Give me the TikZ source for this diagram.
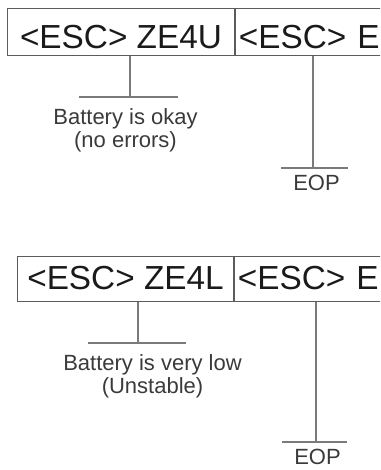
\documentclass[tikz,border=0pt]{standalone}
\usepackage{fontspec}
\setmainfont{Liberation Sans}
\definecolor{cmdink}{HTML}{1A1A1A}
\definecolor{noteink}{HTML}{3A3A3A}
\definecolor{leadgray}{HTML}{7A7A7A}
\definecolor{framegray}{HTML}{5C5C5C}

\begin{document}
\begin{tikzpicture}[
  x=0.75pt,
  y=-0.75pt,
  cmdbox/.style={draw=framegray, line width=0.75pt, inner xsep=0pt, inner ysep=0pt,
    font=\fontsize{25}{29}\selectfont, text=cmdink},
  tailbox/.style={cmdbox, text width=165pt, align=left, inner xsep=2.5pt},
  note/.style={inner sep=0pt, align=center, font=\fontsize{16.5}{17.6}\selectfont, text=noteink},
  lead/.style={leadgray, line width=0.8pt}
]
  % ---- page, same size as the scan ------------------------------------
  \useasboundingbox (0,0) rectangle (380,470);
  \clip (0,0) rectangle (380,470);

  % ---- first sequence: battery okay -------------------------------------
  \node[cmdbox, anchor=north west, minimum width=170.25pt,
        text height=30pt, text depth=5.25pt] (zeu) at (7,8) {<ESC> ZE4U};
  \node[tailbox, anchor=north west,
        text height=30pt, text depth=5.25pt] (esce) at (zeu.north east) {<ESC> E};

  \coordinate (okfoot) at (130,97);
  \draw[lead] (zeu.south -| okfoot) -- (okfoot);
  \draw[lead] (okfoot) ++(-51,0) -- ++(99,0);
  \node[note, anchor=north] (okay) at (125.5,108) {Battery is okay\\(no errors)};

  \coordinate (eopfoot) at (313,168);
  \draw[lead] (esce.south -| eopfoot) -- (eopfoot);
  \draw[lead] (eopfoot) ++(-32,0) -- ++(67,0);
  \node[note, anchor=north] (eop) at (316.5,175) {EOP};

  % ---- second sequence: battery very low --------------------------------
  \node[cmdbox, anchor=north west, minimum width=162pt,
        text height=24.75pt, text depth=9pt] (zel) at (17,256) {<ESC> ZE4L};
  \node[tailbox, anchor=north west,
        text height=24.75pt, text depth=9pt] (escl) at (zel.north east) {<ESC> E};

  \coordinate (lowfoot) at (138,343);
  \draw[lead] (zel.south -| lowfoot) -- (lowfoot);
  \draw[lead] (lowfoot) ++(-50,0) -- ++(98,0);
  \node[note, anchor=north] (low) at (152.5,354) {Battery is very low\\(Unstable)};

  % the scan cuts this one close to its lower edge
  \coordinate (eopfootl) at (316,442);
  \draw[lead] (escl.south -| eopfootl) -- (eopfootl);
  \draw[lead] (eopfootl) ++(-34,0) -- ++(65,0);
  \node[note, anchor=north] (eopl) at (317.5,449) {EOP};
\end{tikzpicture}
\end{document}
